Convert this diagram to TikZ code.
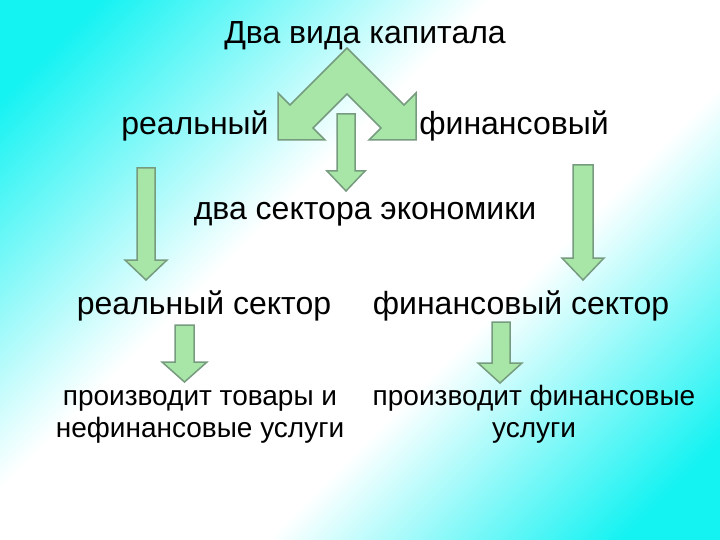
\documentclass[tikz,border=0pt]{standalone}
\usepackage{fontspec}
\setmainfont{Liberation Sans}
\definecolor{bgcyan}{RGB}{20,242,242}
\definecolor{arrowfill}{RGB}{168,230,168}
\definecolor{arrowline}{RGB}{118,155,126}
\pgfdeclareverticalshading{bgband}{100bp}{color(0bp)=(bgcyan); color(20bp)=(bgcyan);
  color(40bp)=(white); color(58bp)=(white); color(80bp)=(bgcyan); color(100bp)=(bgcyan)}

\begin{document}
\begin{tikzpicture}[x=1pt,y=-1pt,line width=1.5pt,
  blockarr/.style={fill=arrowfill,draw=arrowline,line join=miter},
  bigtxt/.style={inner sep=0pt,anchor=base,font=\fontsize{32}{38}\selectfont},
  smalltxt/.style={inner sep=0pt,anchor=base,align=center,font=\fontsize{28}{32}\selectfont}]
\useasboundingbox (0,0) rectangle (720,540);
% ---------- background ----------
\shade[shading=bgband,shading angle=45] (0,0) rectangle (720,540);
% ---------- two kinds of capital ----------
\node[bigtxt] (title) at (365,44) {Два вида капитала};
\node[bigtxt] (real) at (195,135) {реальный};
\node[bigtxt] (fin) at (514,135) {финансовый};
\draw[blockarr] (347,48) -- (404,105) -- (416,93) -- (416,140) -- (369,140) -- (381,128)
  -- (347,94) -- (313,128) -- (325,140) -- (278,140) -- (278,93) -- (290,105) -- cycle;
% ---------- two sectors ----------
\node[bigtxt] (sectors) at (365,220) {два сектора экономики};
\node[bigtxt] (realsec) at (204,314) {реальный сектор};
\node[bigtxt] (finsec) at (521,314) {финансовый сектор};
% base of a two-line node is its last line
\node[smalltxt] (realdo) at (200,437) {производит товары и\\нефинансовые услуги};
\node[smalltxt] (findo) at (534,437) {производит финансовые\\услуги};
% ---------- down arrows: shaft l/r, top, head l/r, barbs, tip ----------
\foreach \sl/\sr/\st/\hl/\hr/\hb/\tp in {337/355/114/327/365/171/191,
    137/155/168/125/167/260/280, 573/593/165/562/604/258/280,
    175/194/325/162/207/362/382, 492/510/322/478/522/363/383}{
  \draw[blockarr] (\sl,\st) -- (\sr,\st) -- (\sr,\hb) -- (\hr,\hb) -- ({(\hl+\hr)/2},\tp)
    -- (\hl,\hb) -- (\sl,\hb) -- cycle;}
\end{tikzpicture}
\end{document}
